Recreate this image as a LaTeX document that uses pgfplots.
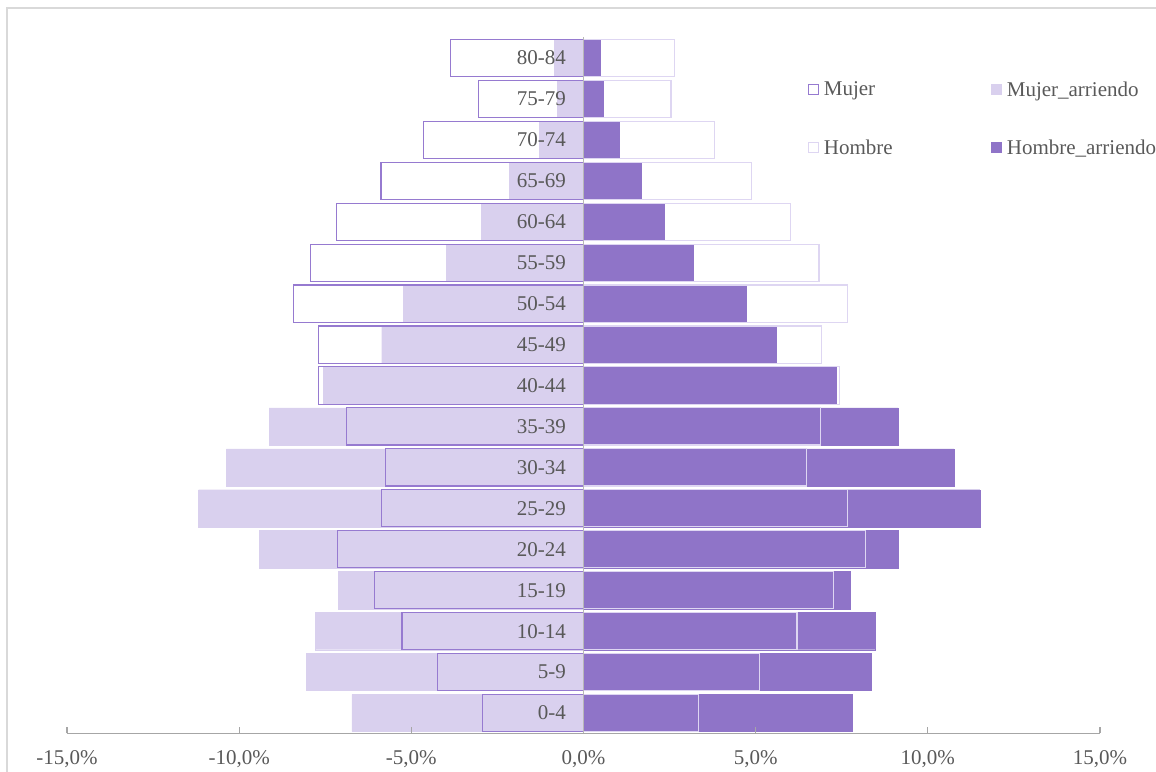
\documentclass[border=0pt]{standalone}
\usepackage{fontspec}
\setmainfont{Liberation Serif}
\usepackage{pgfplots}
\pgfplotsset{compat=1.18}
\definecolor{dark}{RGB}{143,116,200}
\definecolor{light}{RGB}{217,208,238}
\definecolor{mborder}{RGB}{150,122,208}
\definecolor{hborder}{RGB}{222,214,242}
\definecolor{txt}{RGB}{89,89,89}
\definecolor{axgray}{RGB}{166,166,166}
\definecolor{framegray}{RGB}{217,217,217}
\begin{document}
\begin{tikzpicture}[x=1bp,y=1bp]
\useasboundingbox (0,0) rectangle (1156,772);
\draw[framegray, line width=1.5bp] (7,0) -- (7,764) -- (1156,764);
\begin{axis}[
  at={(67bp,38.5bp)}, anchor=south west,
  scale only axis, width=1033bp, height=696bp,
  xmin=-15, xmax=15, ymin=-0.5, ymax=16.5,
  axis x line*=bottom, axis y line*=middle,
  axis on top,
  hide obscured x ticks=false, hide obscured y ticks=false,
  x axis line style={draw=axgray, line width=1.2bp},
  y axis line style={draw=axgray!80, line width=1.2bp},
  xtick={-15,-10,-5,0,5,10,15},
  xticklabels={{-15,0\%},{-10,0\%},{-5,0\%},{0,0\%},{5,0\%},{10,0\%},{15,0\%}},
  ytick={0,...,16},
  yticklabels={0-4,5-9,10-14,15-19,20-24,25-29,30-34,35-39,40-44,45-49,50-54,55-59,60-64,65-69,70-74,75-79,80-84},
  tick align=inside,
  major tick length=6bp,
  xtick style={draw=axgray, line width=1.2bp},
  ytick style={draw=none},
  tick label style={font=\fontsize{21bp}{25bp}\selectfont, text=txt},
  yticklabel style={anchor=east, xshift=-14bp},
  xticklabel style={yshift=-14bp},
  legend columns=2,
  legend cell align=left,
  legend image code/.code={\draw[#1, line width=1bp] (0bp,-5bp) rectangle (10bp,5bp);},
  legend style={draw=none, fill=none, at={(0.717,0.94)}, anchor=north west,
    font=\fontsize{21bp}{25bp}\selectfont, text=txt, inner sep=0pt,
    /tikz/row sep=38bp,
    nodes={inner xsep=5bp}},
]
\addlegendimage{draw=mborder, fill=white}
\addlegendentry{\makebox[162bp][l]{Mujer}}
\addlegendimage{draw=light, fill=light}
\addlegendentry{Mujer\_arriendo}
\addlegendimage{draw=hborder, fill=white}
\addlegendentry{\makebox[162bp][l]{Hombre}}
\addlegendimage{draw=dark, fill=dark}
\addlegendentry{Hombre\_arriendo}

% Mujer_arriendo
\addplot[xbar, bar shift=0pt, bar width=0.908, fill=light, draw=light, forget plot] coordinates {
(-6.73,0) (-8.04,1) (-7.78,2) (-7.12,3) (-9.42,4) (-11.18,5) (-10.37,6) (-9.13,7) (-7.55,8)
(-5.86,9) (-5.23,10) (-3.99,11) (-2.96,12) (-2.16,13) (-1.28,14) (-0.76,15) (-0.84,16)};
% Mujer
\addplot[xbar, bar shift=0pt, bar width=0.908, fill=none, draw=mborder, line width=1.1bp, forget plot] coordinates {
(-2.93,0) (-4.23,1) (-5.27,2) (-6.08,3) (-7.14,4) (-5.86,5) (-5.76,6) (-6.88,7) (-7.69,8)
(-7.70,9) (-8.42,10) (-7.94,11) (-7.17,12) (-5.88,13) (-4.65,14) (-3.04,15) (-3.87,16)};
% Hombre_arriendo
\addplot[xbar, bar shift=0pt, bar width=0.908, fill=dark, draw=dark, forget plot] coordinates {
(7.81,0) (8.36,1) (8.47,2) (7.75,3) (9.15,4) (11.51,5) (10.76,6) (9.14,7) (7.34,8)
(5.59,9) (4.73,10) (3.20,11) (2.35,12) (1.69,13) (1.05,14) (0.56,15) (0.49,16)};
% Hombre
\addplot[xbar, bar shift=0pt, bar width=0.908, fill=none, draw=hborder, line width=1.1bp, forget plot] coordinates {
(3.35,0) (5.12,1) (6.20,2) (7.27,3) (8.20,4) (7.66,5) (6.48,6) (6.88,7) (7.44,8)
(6.91,9) (7.67,10) (6.84,11) (6.02,12) (4.89,13) (3.80,14) (2.54,15) (2.64,16)};
\end{axis}
\end{tikzpicture}
\end{document}
